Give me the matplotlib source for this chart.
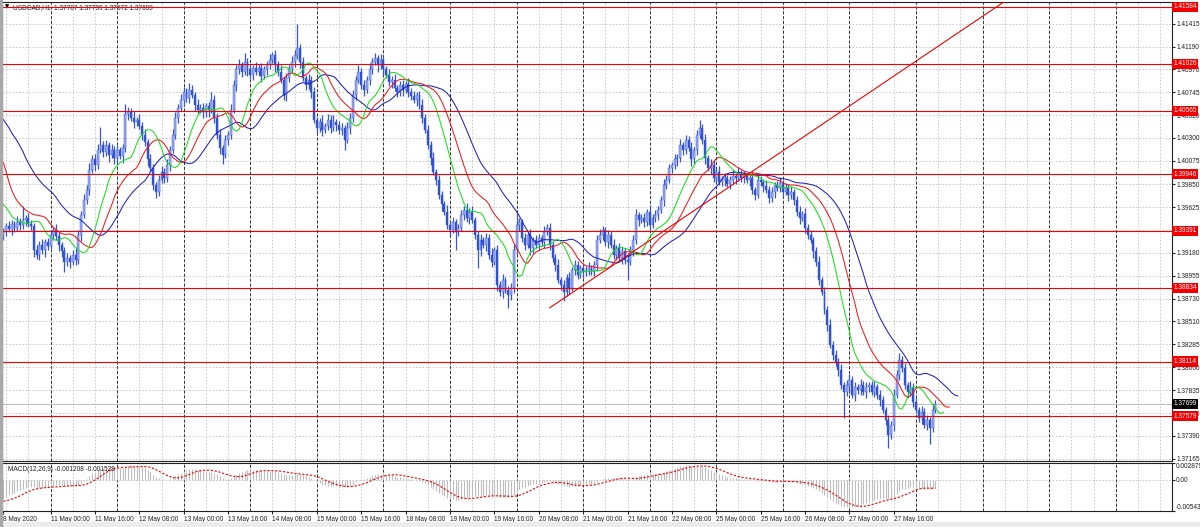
import matplotlib
matplotlib.use("Agg")
import matplotlib.pyplot as plt
import matplotlib.transforms as mtransforms
from matplotlib import font_manager
import numpy as np

# narrow sans if available (closer to the terminal font), else regular
names = {f.name for f in font_manager.fontManager.ttflist}
if "Liberation Sans Narrow" in names:
    plt.rcParams['font.family'] = ['Liberation Sans Narrow', 'DejaVu Sans']
    FS = 5.4
else:
    plt.rcParams['font.family'] = ['Liberation Sans', 'DejaVu Sans']
    FS = 4.7

# -------------------------------
# Data (USDCAD H1)
# -------------------------------
first_open = 1.3935

closes = [
    1.3938, 1.3944, 1.3941, 1.3946, 1.3942, 1.3948, 1.3945, 1.3950, 1.3952, 1.3946, 1.3944,
    1.3920, 1.3916, 1.3925, 1.3920, 1.3928, 1.3924, 1.3935, 1.3940, 1.3934, 1.3925, 1.3919,
    1.3909, 1.3913, 1.3909, 1.3916, 1.3911, 1.3935, 1.3955, 1.3969, 1.3979, 1.3999, 1.4009,
    1.4004, 1.4018, 1.4023, 1.4016, 1.4023, 1.4013, 1.4018, 1.4010, 1.4018, 1.4012, 1.4020,
    1.4053, 1.4055, 1.4050, 1.4046, 1.4048, 1.4042, 1.4033, 1.4026, 1.4009, 1.4001, 1.3984,
    1.3977, 1.3989, 1.3997, 1.3991, 1.4004, 1.4018, 1.4033, 1.4050, 1.4059, 1.4067, 1.4075,
    1.4069, 1.4077, 1.4072, 1.4062, 1.4057, 1.4059, 1.4055, 1.4061, 1.4057, 1.4067, 1.4050,
    1.4033, 1.4020, 1.4013, 1.4028, 1.4033, 1.4057, 1.4082, 1.4097, 1.4101, 1.4095, 1.4104,
    1.4097, 1.4092, 1.4098, 1.4095, 1.4098, 1.4091, 1.4097, 1.4101, 1.4106, 1.4111, 1.4101,
    1.4095, 1.4087, 1.4072, 1.4089, 1.4097, 1.4104, 1.4111, 1.4118, 1.4104, 1.4089, 1.4082,
    1.4087, 1.4075, 1.4048, 1.4040, 1.4046, 1.4038, 1.4042, 1.4048, 1.4040, 1.4046, 1.4043,
    1.4038, 1.4040, 1.4028, 1.4040, 1.4050, 1.4072, 1.4087, 1.4095, 1.4082, 1.4077, 1.4087,
    1.4097, 1.4104, 1.4108, 1.4101, 1.4106, 1.4097, 1.4092, 1.4085, 1.4087, 1.4079, 1.4075,
    1.4082, 1.4077, 1.4083, 1.4075, 1.4071, 1.4067, 1.4072, 1.4062, 1.4050, 1.4038, 1.4023,
    1.4010, 1.3997, 1.3989, 1.3974, 1.3965, 1.3958, 1.3945, 1.3940, 1.3948, 1.3938, 1.3942,
    1.3955, 1.3960, 1.3952, 1.3958, 1.3950, 1.3935, 1.3920, 1.3930, 1.3925, 1.3932, 1.3916,
    1.3909, 1.3920, 1.3886, 1.3879, 1.3891, 1.3881, 1.3876, 1.3883, 1.3920, 1.3945, 1.3948,
    1.3932, 1.3925, 1.3935, 1.3922, 1.3930, 1.3925, 1.3932, 1.3928, 1.3938, 1.3942, 1.3925,
    1.3913, 1.3906, 1.3891, 1.3886, 1.3879, 1.3893, 1.3883, 1.3901, 1.3906, 1.3896, 1.3903,
    1.3899, 1.3901, 1.3903, 1.3899, 1.3906, 1.3930, 1.3935, 1.3940, 1.3928, 1.3935, 1.3925,
    1.3916, 1.3922, 1.3913, 1.3919, 1.3911, 1.3909, 1.3920, 1.3930, 1.3955, 1.3950, 1.3952,
    1.3948, 1.3958, 1.3945, 1.3952, 1.3955, 1.3960, 1.3969, 1.3984, 1.3989, 1.4001, 1.4004,
    1.4009, 1.4010, 1.4023, 1.4018, 1.4028, 1.4020, 1.4009, 1.4018, 1.4033, 1.4040, 1.4028,
    1.4010, 1.4001, 1.4004, 1.3991, 1.3997, 1.3987, 1.3989, 1.3991, 1.3985, 1.3989, 1.3993,
    1.3991, 1.3995, 1.3991, 1.3993, 1.3989, 1.3991, 1.3979, 1.3974, 1.3989, 1.3987, 1.3983,
    1.3979, 1.3971, 1.3977, 1.3984, 1.3981, 1.3986, 1.3977, 1.3981, 1.3974, 1.3977, 1.3969,
    1.3958, 1.3952, 1.3956, 1.3942, 1.3935, 1.3930, 1.3919, 1.3909, 1.3891, 1.3879, 1.3862,
    1.3847, 1.3828, 1.3818, 1.3811, 1.3803, 1.3788, 1.3782, 1.3788, 1.3793, 1.3779, 1.3786,
    1.3784, 1.3788, 1.3782, 1.3786, 1.3788, 1.3782, 1.3786, 1.3779, 1.3774, 1.3764, 1.3754,
    1.3740, 1.3749, 1.3779, 1.3798, 1.3813, 1.3805, 1.3788, 1.3782, 1.3786, 1.3772, 1.3764,
    1.3756, 1.3762, 1.3749, 1.3754, 1.3746, 1.3764, 1.3770,
]

# wick lengths above / below the candle body, in 0.0001
upper_wick = [
    4, 3, 5, 4, 3, 6, 4, 13, 3, 5, 4,
    3, 5, 4, 6, 3, 4, 5, 3, 6, 4, 3,
    4, 5, 3, 4, 6, 5, 4, 6, 5, 7, 4,
    5, 6, 18, 4, 5, 3, 6, 4, 5, 3, 4,
    10, 5, 4, 6, 3, 5, 4, 6, 3, 5, 4,
    3, 5, 6, 4, 5, 4, 6, 5, 4, 6, 5,
    4, 7, 5, 3, 6, 4, 5, 3, 4, 8, 5,
    4, 6, 3, 5, 4, 6, 5, 4, 6, 3, 9,
    4, 5, 3, 6, 4, 5, 3, 4, 6, 3, 5,
    4, 6, 3, 5, 4, 6, 5, 23, 4, 5, 3,
    6, 4, 5, 3, 4, 6, 3, 5, 4, 6, 3,
    4, 5, 3, 6, 4, 5, 4, 6, 3, 5, 4,
    6, 4, 5, 3, 6, 4, 3, 5, 4, 6, 3,
    4, 5, 3, 6, 4, 5, 3, 4, 6, 3, 5,
    4, 6, 3, 5, 4, 3, 6, 4, 5, 3, 4,
    5, 3, 6, 4, 5, 3, 4, 6, 3, 5, 4,
    6, 3, 5, 4, 6, 3, 4, 5, 6, 15, 4,
    3, 5, 4, 6, 3, 5, 4, 3, 6, 4, 5,
    3, 4, 6, 3, 5, 4, 6, 3, 5, 4, 3,
    5, 4, 6, 3, 4, 5, 6, 4, 3, 5, 4,
    6, 3, 5, 4, 3, 6, 4, 5, 6, 3, 4,
    5, 3, 6, 4, 5, 3, 4, 6, 5, 4, 3,
    5, 4, 6, 3, 5, 4, 6, 3, 5, 8, 4,
    6, 3, 5, 4, 3, 6, 4, 5, 3, 4, 6,
    3, 7, 4, 5, 3, 4, 6, 3, 5, 4, 3,
    6, 4, 5, 3, 4, 6, 3, 5, 4, 6, 3,
    4, 5, 3, 6, 4, 5, 3, 4, 6, 3, 5,
    4, 6, 3, 5, 4, 6, 3, 5, 6, 4, 5,
    3, 6, 4, 5, 3, 4, 6, 3, 5, 4, 3,
    5, 4, 6, 5, 7, 4, 5, 3, 6, 4, 5,
    3, 6, 4, 5, 3, 6, 4,
]
lower_wick = [
    5, 4, 3, 6, 4, 3, 5, 4, 6, 3, 4,
    6, 4, 5, 3, 6, 4, 3, 5, 4, 6, 5,
    10, 4, 6, 3, 5, 4, 6, 3, 4, 5, 3,
    6, 4, 3, 5, 4, 6, 3, 5, 4, 3, 6,
    4, 5, 3, 6, 4, 3, 5, 4, 6, 3, 5,
    6, 4, 3, 5, 4, 6, 3, 4, 5, 3, 6,
    4, 5, 3, 6, 4, 3, 5, 4, 6, 3, 5,
    4, 6, 8, 3, 5, 4, 3, 6, 4, 5, 3,
    6, 4, 5, 3, 4, 6, 3, 5, 4, 3, 6,
    4, 3, 5, 6, 4, 3, 5, 4, 6, 3, 5,
    4, 6, 3, 5, 4, 6, 3, 4, 5, 3, 6,
    4, 5, 10, 3, 6, 4, 5, 3, 4, 6, 3,
    5, 4, 3, 6, 4, 5, 3, 4, 6, 3, 5,
    4, 6, 3, 5, 4, 3, 6, 4, 5, 3, 4,
    6, 3, 5, 4, 6, 3, 4, 5, 3, 18, 4,
    3, 5, 4, 6, 3, 4, 17, 5, 3, 6, 4,
    5, 3, 6, 4, 5, 3, 12, 4, 5, 3, 6,
    4, 5, 3, 6, 4, 3, 5, 4, 6, 3, 5,
    4, 6, 3, 5, 8, 4, 6, 3, 5, 4, 3,
    6, 4, 5, 3, 4, 6, 3, 5, 4, 6, 3,
    4, 5, 3, 6, 4, 18, 3, 5, 4, 6, 3,
    5, 4, 6, 3, 4, 5, 3, 6, 4, 3, 5,
    4, 6, 3, 5, 4, 3, 6, 4, 5, 3, 4,
    5, 3, 6, 4, 5, 3, 4, 6, 3, 5, 4,
    6, 3, 4, 5, 3, 6, 4, 5, 3, 4, 6,
    3, 5, 4, 6, 3, 4, 5, 3, 6, 4, 5,
    4, 6, 3, 5, 4, 3, 6, 4, 5, 3, 4,
    6, 3, 5, 4, 6, 3, 26, 4, 5, 3, 6,
    4, 5, 3, 6, 4, 3, 5, 4, 6, 3, 5,
    13, 4, 6, 3, 5, 4, 3, 6, 4, 5, 3,
    4, 6, 3, 5, 15, 4, 3,
]

# Alligator values already on the chart before the first computed bar
jaw_head = [1.4048, 1.4044, 1.4040, 1.4035, 1.4031, 1.4027, 1.4022, 1.4017]
teeth_head = [1.4006, 1.3997, 1.3987, 1.3979, 1.3973]
lips_head = [1.3965, 1.3962, 1.3958]

# MACD values at the left edge
macd_start = -0.0036
signal_start = -0.0038

# horizontal levels and trend line
levels = [1.41584, 1.41026, 1.40565, 1.39946, 1.39391, 1.38834, 1.38114, 1.37579]
last_price = 1.37699
trend_bars = [197, 359]
trend_prices = [1.3864, 1.4160]

price_ticks = [1.41415, 1.41190, 1.40970, 1.40745, 1.40520, 1.40300, 1.40075, 1.39850,
               1.39625, 1.39400, 1.39180, 1.38955, 1.38730, 1.38510, 1.38285, 1.38060,
               1.37835, 1.37610, 1.37390, 1.37165]
# labels hidden behind the level boxes in the original
hidden_ticks = [1.39400]

time_bars = [0, 17, 33, 49, 65, 81, 97, 113, 129, 145, 161, 177, 193, 209, 225, 241,
             257, 273, 289, 305, 321]
time_labels = ["8 May 2020", "11 May 00:00", "11 May 16:00", "12 May 08:00", "13 May 00:00",
               "13 May 16:00", "14 May 08:00", "15 May 00:00", "15 May 16:00", "18 May 08:00",
               "19 May 00:00", "19 May 16:00", "20 May 08:00", "21 May 00:00", "21 May 16:00",
               "22 May 08:00", "25 May 00:00", "25 May 16:00", "26 May 08:00", "27 May 00:00",
               "27 May 16:00"]

macd_top = 0.002879
macd_bottom = -0.00543

# -------------------------------
# Derived series
# -------------------------------
n = len(closes)
x = np.arange(n)
opens = [first_open] + closes[:-1]
highs = np.array([max(o, c) + u / 10000 for o, c, u in zip(opens, closes, upper_wick)])
lows = np.array([min(o, c) - d / 10000 for o, c, d in zip(opens, closes, lower_wick)])
median = (highs + lows) / 2


def smma(values, period, head):
    out = list(head)
    prev = head[-1]
    for v in values:
        prev = (prev * (period - 1) + v) / period
        out.append(prev)
    return np.array(out)


jaw = smma(median, 13, jaw_head)
teeth = smma(median, 8, teeth_head)
lips = smma(median, 5, lips_head)

ema12 = first_open
ema26 = first_open - macd_start
macd = []
for c in closes:
    ema12 += 2 / 13 * (c - ema12)
    ema26 += 2 / 27 * (c - ema26)
    macd.append(ema12 - ema26)
macd = np.array(macd)
padded = np.concatenate([[signal_start] * 8, macd])
signal = np.array([padded[i:i + 9].mean() for i in range(n)])

# -------------------------------
# Figure
# -------------------------------
W, H = 1200, 527
fig = plt.figure(figsize=(W / 100, H / 100), dpi=100, facecolor="white")
ax = fig.add_axes([2 / W, 1 - 461 / H, 1170 / W, 459 / H])
ax2 = fig.add_axes([2 / W, 1 - 511 / H, 1170 / W, 48 / H])
fig.patches.append(plt.Rectangle((0, 0), 1, 5 / H, transform=fig.transFigure,
                                 color="#ececec", zorder=0))
fig.patches.append(plt.Rectangle((0, 0), 1.5 / W, 1, transform=fig.transFigure,
                                 color="#a8a8a8", zorder=0))

xmin, xmax = -0.5, -0.5 + 1170 / 2.774
for a in (ax, ax2):
    a.set_xlim(xmin, xmax)
    a.set_facecolor("white")
    for s in a.spines.values():
        s.set_color("#202020")
        s.set_linewidth(0.8)
    # grid every 8 bars, day separators every 24 bars
    for b in np.arange(1, xmax, 8):
        a.axvline(b, color="#c4c4c4", lw=0.6, ls=(0, (2, 2)), zorder=0)
    for b in np.arange(17, xmax, 24):
        a.axvline(b, color="#303030", lw=0.7, ls=(0, (3, 2)), zorder=1)

ax.set_ylim(1.37141, 1.41630)
for p in price_ticks:
    ax.axhline(p, color="#c4c4c4", lw=0.6, ls=(0, (2, 2)), zorder=0)

# candles
wick_col = "#3656d4"
ax.vlines(x, lows, highs, color=wick_col, lw=0.9, zorder=3)
o = np.array(opens)
c = np.array(closes)
body_bottom = np.minimum(o, c)
body_h = np.maximum(np.abs(c - o), 0.00003)
body_col = np.where(c >= o, "#9cadee", "#3050cc")
ax.bar(x, body_h, bottom=body_bottom, width=0.7, color=body_col,
       edgecolor=wick_col, linewidth=0.3, zorder=4)

# alligator
ax.plot(np.arange(len(jaw)), jaw, color="#2020c0", lw=0.75, zorder=5)
ax.plot(np.arange(len(teeth)), teeth, color="#f01818", lw=0.75, zorder=5)
ax.plot(np.arange(len(lips)), lips, color="#18e018", lw=0.75, zorder=5)

# levels
for lv in levels:
    ax.axhline(lv, color="#f00000", lw=0.8, zorder=6)
ax.axhline(last_price, color="#c0c0c0", lw=0.8, zorder=2)

# trend line (ray)
slope = (trend_prices[1] - trend_prices[0]) / (trend_bars[1] - trend_bars[0])
ray_x = np.array([trend_bars[0], xmax])
ax.plot(ray_x, trend_prices[0] + slope * (ray_x - trend_bars[0]), color="#f00000", lw=0.8, zorder=6)

# right price scale
ax.yaxis.tick_right()
shown = [p for p in price_ticks if p not in hidden_ticks]
ax.set_yticks(shown)
ax.set_yticklabels([f"{p:.5f}" for p in shown])
ax.tick_params(axis="y", labelsize=FS, length=2, pad=1, colors="#202020")
ax.set_xticks([])

trans = mtransforms.blended_transform_factory(ax.transAxes, ax.transData)
for lv in levels:
    ax.text(1.001, lv, f"{lv:.5f}", transform=trans, fontsize=FS, color="white",
            va="center", ha="left", clip_on=False, zorder=10,
            bbox=dict(boxstyle="square,pad=0.25", fc="#f00000", ec="none"))
ax.text(1.001, last_price, f"{last_price:.5f}", transform=trans, fontsize=FS, color="white",
        va="center", ha="left", clip_on=False, zorder=10,
        bbox=dict(boxstyle="square,pad=0.25", fc="#000000", ec="none"))

ax.text(0.0025, 0.994, "\u25bc", transform=ax.transAxes, fontsize=4, va="top", ha="left",
        family=["DejaVu Sans"])
ax.text(0.0095, 0.995, "USDCAD,H1  1.37707 1.37799 1.37672 1.37699", transform=ax.transAxes,
        fontsize=FS, va="top", ha="left", color="#202020")

# MACD panel
ax2.set_ylim(macd_bottom, macd_top)
ax2.axhline(0, color="#c4c4c4", lw=0.6, ls=(0, (2, 2)), zorder=0)
ax2.vlines(x, 0, macd, color="#bdbdbd", lw=0.8, zorder=3)
ax2.plot(x, signal, color="#f00000", lw=0.8, ls=(0, (2, 1.5)), zorder=4)
ax2.yaxis.tick_right()
ax2.set_yticks([macd_top, 0.0, macd_bottom])
ax2.set_yticklabels(["0.002879", "0.00", "-0.00543"])
ax2.tick_params(axis="y", labelsize=FS, length=2, pad=1, colors="#202020")
ylbls = ax2.get_yticklabels()
ylbls[0].set_verticalalignment("top")
ylbls[2].set_verticalalignment("bottom")
ax2.text(0.005, 0.94, "MACD(12,26,9) -0.001208 -0.001529", transform=ax2.transAxes,
         fontsize=FS, va="top", ha="left", color="#202020")

ax2.set_xticks(time_bars)
ax2.set_xticklabels(time_labels)
ax2.tick_params(axis="x", labelsize=FS, length=2, pad=1.5, colors="#202020")
for lbl in ax2.get_xticklabels():
    lbl.set_horizontalalignment("left")

fig.savefig("out.png", dpi=100, facecolor="white")
